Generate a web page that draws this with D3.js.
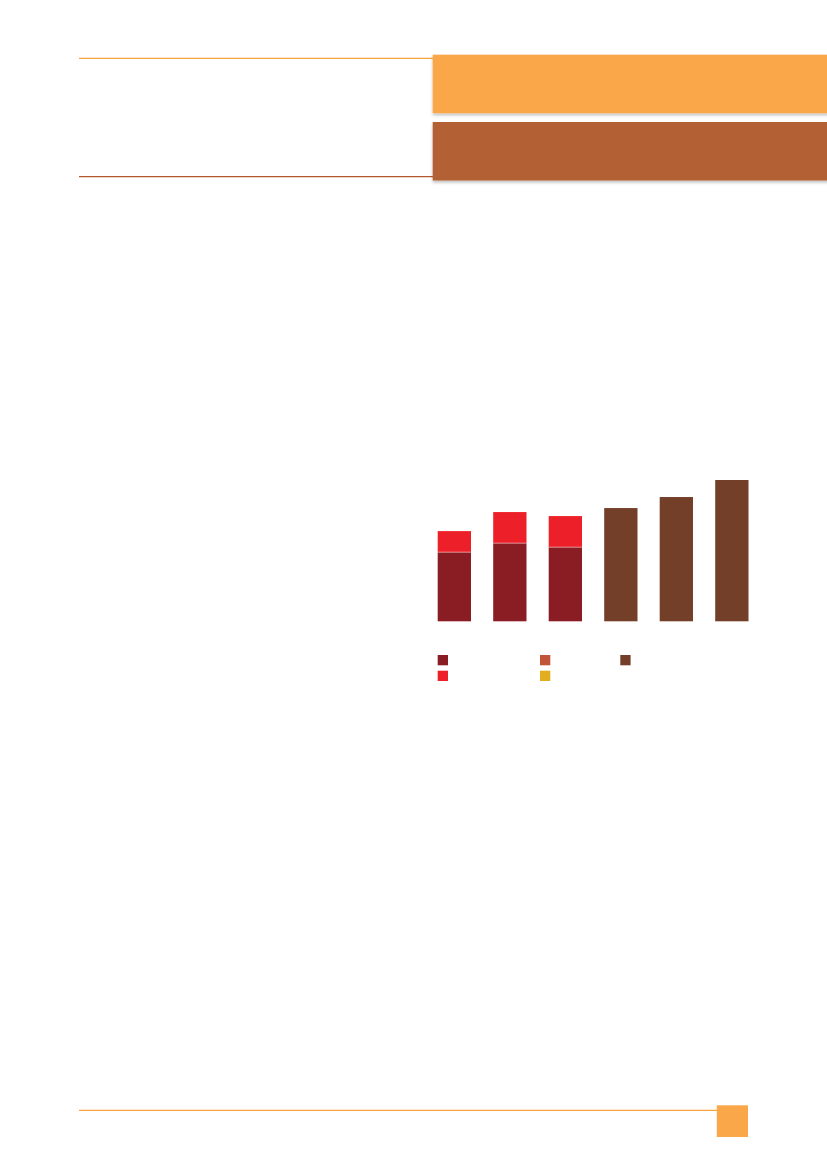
<!DOCTYPE html>
<html>
<head>
<meta charset="utf-8">
<script src="https://cdn.jsdelivr.net/npm/d3@7"></script>
<style>
html,body{margin:0;padding:0;background:#fff;}
svg{display:block;}
</style>
</head>
<body>
<svg id="chart" width="827" height="1169"></svg>
<script>
// Data
const categories = ["A", "B", "C", "D", "E", "F"];
const seriesBase = [69, 78, 74, 0, 0, 0];       // dark red
const seriesTop = [21, 31, 31, 0, 0, 0];        // bright red
const seriesBrown = [0, 0, 0, 113, 124, 141];   // brown
const legendColors = ["#8A1C24", "#C1553A", "#733F28", "#ED1F29", "#E1AE20"];
const barColors = {base: "#8A1C24", top: "#ED1F29", brown: "#733F28"};

const svg = d3.select("#chart");

// Decorative header
const defs = svg.append("defs");
const f = defs.append("filter").attr("id", "sh").attr("x", "-5%").attr("y", "-20%").attr("width", "110%").attr("height", "160%");
f.append("feDropShadow").attr("dx", 0).attr("dy", 2).attr("stdDeviation", 1.8).attr("flood-color", "#000").attr("flood-opacity", 0.25);

svg.append("line").attr("x1", 79).attr("x2", 433).attr("y1", 58.3).attr("y2", 58.3)
  .attr("stroke", "#F9A33E").attr("stroke-width", 1.2);
svg.append("line").attr("x1", 79).attr("x2", 433).attr("y1", 176.7).attr("y2", 176.7)
  .attr("stroke", "#B5572F").attr("stroke-width", 1.2);
svg.append("rect").attr("x", 432.7).attr("y", 54.7).attr("width", 400).attr("height", 58.5)
  .attr("fill", "#F9A748").attr("filter", "url(#sh)");
svg.append("rect").attr("x", 432.7).attr("y", 122).attr("width", 400).attr("height", 58.5)
  .attr("fill", "#B46034").attr("filter", "url(#sh)");

// Footer
svg.append("line").attr("x1", 79).attr("x2", 717).attr("y1", 1110.3).attr("y2", 1110.3)
  .attr("stroke", "#F9A33E").attr("stroke-width", 1.2);
svg.append("rect").attr("x", 716.8).attr("y", 1105.3).attr("width", 31.2).attr("height", 31.7)
  .attr("fill", "#F9A748");

// Chart
const x = d3.scaleBand().domain(categories).range([426.6, 759.6]).paddingInner(0.4).paddingOuter(0.2);
const y = d3.scaleLinear().domain([0, 141]).range([621.3, 480]);

const stacked = categories.map((c, i) => ({c, base: seriesBase[i], top: seriesTop[i], brown: seriesBrown[i]}));
const g = svg.append("g");

g.selectAll("rect.base").data(stacked.filter(d => d.base > 0)).join("rect")
  .attr("x", d => x(d.c)).attr("width", x.bandwidth())
  .attr("y", d => y(d.base)).attr("height", d => y(0) - y(d.base))
  .attr("fill", barColors.base);
g.selectAll("rect.top").data(stacked.filter(d => d.top > 0)).join("rect")
  .attr("x", d => x(d.c)).attr("width", x.bandwidth())
  .attr("y", d => y(d.base + d.top)).attr("height", d => y(d.base) - y(d.base + d.top))
  .attr("fill", barColors.top);
g.selectAll("rect.brown").data(stacked.filter(d => d.brown > 0)).join("rect")
  .attr("x", d => x(d.c)).attr("width", x.bandwidth())
  .attr("y", d => y(d.brown)).attr("height", d => y(0) - y(d.brown))
  .attr("fill", barColors.brown);

// thin light separator between stacked segments
g.selectAll("line.sep").data(stacked.filter(d => d.top > 0)).join("line")
  .attr("x1", d => x(d.c)).attr("x2", d => x(d.c) + x.bandwidth())
  .attr("y1", d => y(d.base)).attr("y2", d => y(d.base))
  .attr("stroke", "#f3c9cb").attr("stroke-width", 0.6);

// Legend (swatches only)
const legendPos = [[437.7, 655], [540, 655], [620.3, 655], [437.7, 670.7], [540, 670.7]];
svg.append("g").selectAll("rect").data(legendColors).join("rect")
  .attr("x", (d, i) => legendPos[i][0]).attr("y", (d, i) => legendPos[i][1])
  .attr("width", 10.3).attr("height", 10.3).attr("fill", d => d);
</script>
</body>
</html>
